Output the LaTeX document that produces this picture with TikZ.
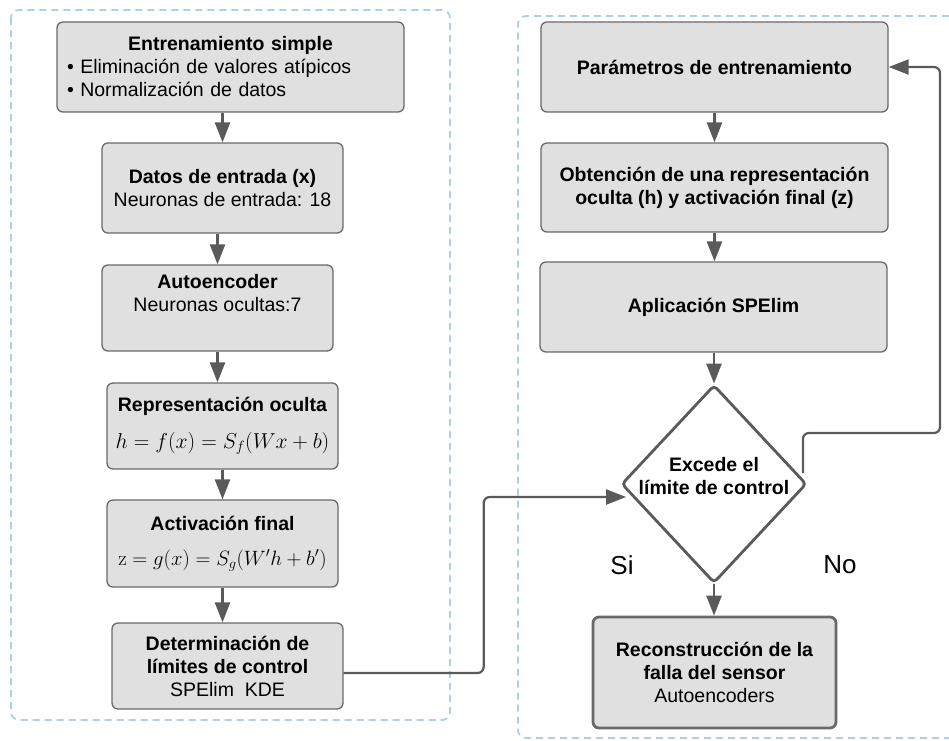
\documentclass[tikz,border=0pt]{standalone}
\usepackage[no-math]{fontspec}
\setmainfont{Liberation Sans}
\usepackage{graphicx}
\usetikzlibrary{shapes.geometric,arrows.meta}
\definecolor{boxgray}{RGB}{224,224,224}
\definecolor{linegray}{RGB}{105,105,105}
\definecolor{arrowgray}{RGB}{90,90,90}
\definecolor{dashblue}{RGB}{170,208,236}
\newcommand{\formula}[2][1]{\scalebox{#1}{$#2$}}

\begin{document}
\begin{tikzpicture}[x=1pt,y=-1pt,
  caja/.style={draw=linegray, line width=1.3pt, fill=boxgray, rounded corners=6pt, align=center, inner sep=0pt, font=\fontsize{19.5}{23}\selectfont},
  flecha/.style={draw=arrowgray, line width=2.6pt, -{Triangle[length=20pt,width=15pt]}},
  marco/.style={draw=dashblue, line width=1.8pt, dash pattern=on 7pt off 5pt, rounded corners=8pt}]
\useasboundingbox (0,0) rectangle (949,740);
\draw[marco] (11,10) rectangle (450,720);
\draw[marco] (949,16) -- (518,16) -- (518,738) -- (949,738);

\node[caja, minimum width=347pt, minimum height=90pt, text width=327pt, align=left] (ent) at (230.5,67)
  {\makebox[\linewidth]{\textbf{Entrenamiento simple}}\\\textbullet\ Eliminación de valores atípicos\\\textbullet\ Normalización de datos};
\node[caja, minimum width=241pt, minimum height=90pt] (dat) at (222.5,188) {\textbf{Datos de entrada (x)}\\Neuronas de entrada: 18};
\node[caja, minimum width=231pt, minimum height=86pt] (aut) at (217.5,308) {\textbf{Autoencoder}\\Neuronas ocultas:7\\\strut};
\node[caja, minimum width=231pt, minimum height=86pt] (rep) at (222.5,426) {\textbf{Representación oculta}\\[14pt]\formula[1.04]{h = f(x) = S_f(Wx+b)}};
\node[caja, minimum width=231pt, minimum height=87pt] (act) at (222.5,543.5) {\textbf{Activación final}\\[12pt]\formula{\mathrm{z} = g(x) = S_g(W'h+b')}};
\node[caja, minimum width=231pt, minimum height=86pt] (det) at (227.5,666) {\textbf{Determinación de}\\\textbf{límites de control}\\SPElim\ \ KDE};

\node[caja, minimum width=347pt, minimum height=90pt] (par) at (714.5,67) {\textbf{Parámetros de entrenamiento}};
\node[caja, minimum width=347pt, minimum height=89pt] (obt) at (714.5,187.5) {\textbf{Obtención de una representación}\\\textbf{oculta (h) y activación final (z)}};
\node[caja, minimum width=347pt, minimum height=90pt] (apl) at (713.5,307) {\textbf{Aplicación SPElim}};
\node[draw=arrowgray, line width=2.8pt, shape=diamond, minimum width=185pt, minimum height=198pt, inner sep=0pt, rounded corners=4pt,
  label={[font=\bfseries\fontsize{19.5}{23}\selectfont, align=center, yshift=8pt]center:Excede el\\límite de control}] (exc) at (714,484) {};
\node[caja, line width=2.8pt, minimum width=243pt, minimum height=111pt] (rec) at (714.5,672.5) {\textbf{Reconstrucción de la}\\\textbf{falla del sensor}\\Autoencoders};
\node[font=\fontsize{26}{30}\selectfont] (si) at (622,565) {Si};
\node[font=\fontsize{26}{30}\selectfont] (no) at (840,565) {No};

\draw[flecha] (ent.south -| dat.north) -- (dat.north);
\draw[flecha] (dat.south -| aut.north) -- (aut.north);
\draw[flecha] (aut.south) -- (aut.south |- rep.north);
\draw[flecha] (rep.south) -- (rep.south |- act.north);
\draw[flecha] (act.south) -- (act.south |- det.north);
\draw[flecha] (par.south) -- (obt.north);
\draw[flecha] (obt.south) -- (obt.south |- apl.north);
\draw[flecha] (apl.south -| exc.north) -- (exc.north);
\draw[flecha] (exc.south) -- (exc.south |- rec.north);
\draw[flecha, line width=2.2pt, rounded corners=6pt] ([yshift=-7pt]det.east) -- ++(140,0) |- ([xshift=6pt,yshift=-13pt]exc.west);
\coordinate (giro) at (940,433);
\draw[flecha, line width=2.2pt, rounded corners=6pt] ([xshift=-5pt,yshift=11pt]exc.east) |- (giro) |- (par.east);
\end{tikzpicture}
\end{document}
